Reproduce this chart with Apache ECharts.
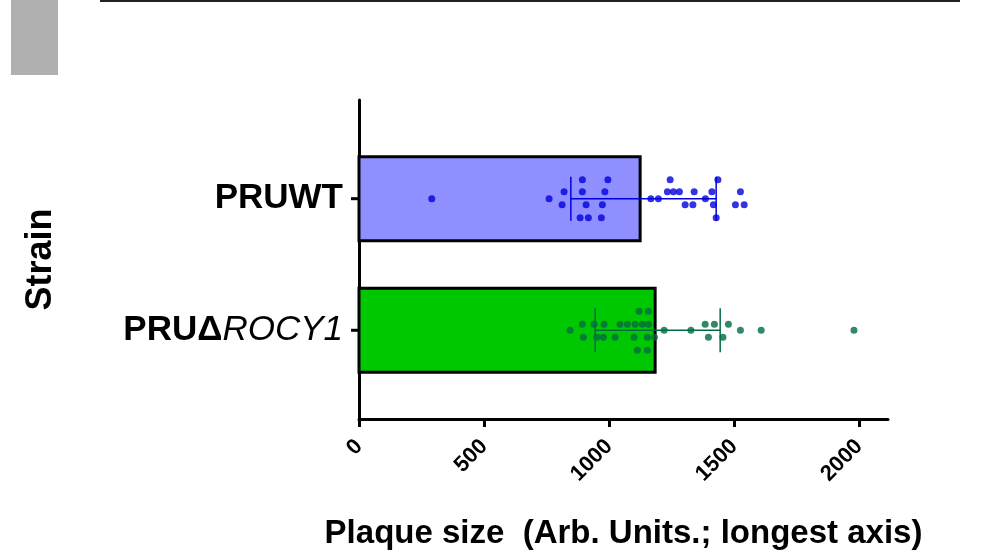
<!DOCTYPE html><html><head><meta charset="utf-8"><script src="https://cdn.jsdelivr.net/npm/echarts@6/dist/echarts.min.js"></script></head><body style="margin:0"><div id="c" style="width:982px;height:555px"></div><script>
const strains=['PRUWT','PRUΔROCY1'];
const strainPos=[221,89];
const means=[1124,1184];
const sdLow=[847,944];
const sdHigh=[1428,1444];
const wtX=[893,995,1244,1435,820,893,983,1233,1257,1281,1340,1411,1525,291,760,1167,1197,1385,812,908,973,1304,1335,1417,1505,1540,884,917,969,1428];
const wtJ=[19,19,19,19,7,7,7,7,7,7,7,7,7,0,0,0,0,0,-6,-6,-6,-6,-6,-6,-6,-6,-19,-19,-19,-19];
const roX=[1120,1157,893,940,980,1044,1073,1104,1133,1157,1384,1421,1477,844,1220,1327,1525,1608,1979,897,951,977,1024,1100,1153,1181,1397,1455,1113,1153];
const roJ=[19,19,6,6,6,6,6,6,6,6,6,6,6,0,0,0,0,0,0,-7,-7,-7,-7,-7,-7,-7,-7,-7,-20,-20];
const xTicks=[0,500,1000,1500,2000];
const colors=['#8f8fff','#00c800'],dotC=['#0000dd','#006b40'];
const ch=echarts.init(document.getElementById('c'));
const bars=strains.map((s,i)=>[means[i],strainPos[i],i,sdLow[i],sdHigh[i]]);
ch.setOption({animation:false,
graphic:[{type:'rect',shape:{x:11,y:0,width:47,height:75},style:{fill:'#b0b0b0'}},{type:'rect',shape:{x:100,y:0,width:860,height:2},style:{fill:'#222'}}],
grid:{left:359,right:94,top:100,bottom:135},
xAxis:{type:'value',min:0,max:2115,interval:500,axisLine:{lineStyle:{color:'#000',width:3}},axisTick:{length:8,lineStyle:{width:3,color:'#000'}},splitLine:{show:false},
 axisLabel:{rotate:45,fontFamily:'Liberation Sans',fontWeight:'bold',fontSize:22,color:'#000',margin:24,showMaxLabel:false,formatter:v=>xTicks.includes(v)?String(v):''},
 name:'Plaque size  (Arb. Units.; longest axis)',nameLocation:'middle',nameGap:98,nameTextStyle:{fontFamily:'Liberation Sans',fontWeight:'bold',fontSize:33,color:'#000'}},
yAxis:{type:'value',min:0,max:320,axisLine:{show:true,lineStyle:{color:'#000',width:3}},axisTick:{show:false},axisLabel:{show:false},splitLine:{show:false},
 name:'Strain',nameLocation:'middle',nameGap:300,nameTextStyle:{fontFamily:'Liberation Sans',fontWeight:'bold',fontSize:36,color:'#000'}},
series:[
{type:'custom',data:bars,clip:false,z:2,renderItem:(p,api)=>{
 const i=api.value(2),y=api.value(1);const a=api.coord([0,y]),b=api.coord([api.value(0),y]);
 const lo=api.coord([api.value(3),y]),hi=api.coord([api.value(4),y]);const lc=dotC[i];
 const rich={n:{fontFamily:'Liberation Sans',fontWeight:'bold',fontSize:35,fill:'#000'},it:{fontFamily:'Liberation Sans',fontStyle:'italic',fontSize:35,fill:'#000'}};
 return {type:'group',children:[
  {type:'rect',shape:{x:a[0],y:a[1]-42,width:b[0]-a[0],height:84},style:{fill:colors[i],stroke:'#000',lineWidth:3}},
  {type:'line',shape:{x1:a[0]-8,y1:a[1],x2:a[0],y2:a[1]},style:{stroke:'#000',lineWidth:3}},
  {type:'text',x:a[0]-16,y:a[1],style:{text:i===0?'{n|PRUWT}':'{n|PRUΔ}{it|ROCY1}',rich:rich,align:'right',verticalAlign:'middle'}},
  {type:'line',shape:{x1:lo[0],y1:a[1],x2:hi[0],y2:a[1]},style:{stroke:lc,lineWidth:1.5},z2:10},
  {type:'line',shape:{x1:lo[0],y1:a[1]-22,x2:lo[0],y2:a[1]+22},style:{stroke:lc,lineWidth:1.5},z2:10},
  {type:'line',shape:{x1:hi[0],y1:a[1]-22,x2:hi[0],y2:a[1]+22},style:{stroke:lc,lineWidth:1.5},z2:10}]};
}},
{type:'scatter',z:5,symbolSize:7,itemStyle:{color:dotC[0]},data:wtX.map((v,k)=>[v,strainPos[0]+wtJ[k]])},
{type:'scatter',z:5,symbolSize:7,itemStyle:{color:dotC[1]},data:roX.map((v,k)=>[v,strainPos[1]+roJ[k]])}
]});
</script></body></html>
